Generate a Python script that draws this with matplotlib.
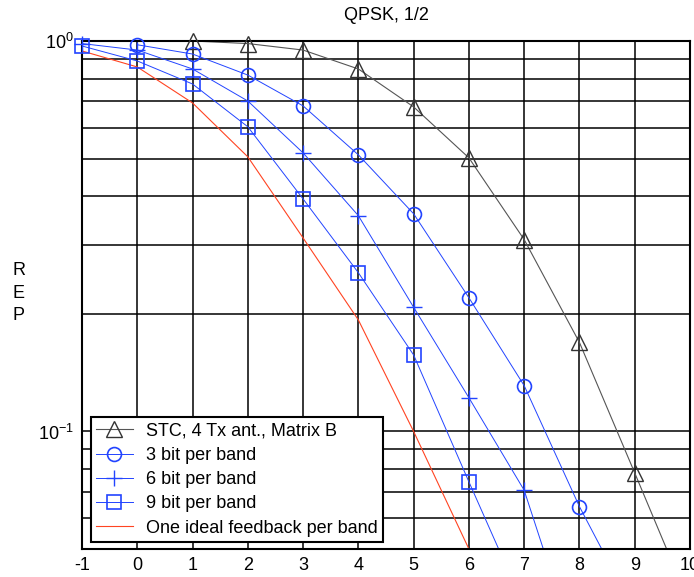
import matplotlib
matplotlib.use("Agg")
import matplotlib.pyplot as plt
import numpy as np
from matplotlib.ticker import FixedLocator, NullFormatter, LogLocator

plt.rcParams['font.family'] = ['Liberation Sans', 'DejaVu Sans']
plt.rcParams['mathtext.fontset'] = 'custom'
plt.rcParams['mathtext.rm'] = 'Liberation Sans'
plt.rcParams['mathtext.it'] = 'Liberation Sans'
plt.rcParams['mathtext.default'] = 'regular'

title = "QPSK, 1/2"
ylabel = "R\nE\nP"

stc_x = [1, 2, 3, 4, 5, 6, 7, 8, 9, 10]
stc_y = [1.0, 0.985, 0.948, 0.848, 0.678, 0.502, 0.310, 0.169, 0.0783, 0.036]

b3_x = [0, 1, 2, 3, 4, 5, 6, 7, 8, 9]
b3_y = [0.978, 0.926, 0.818, 0.682, 0.511, 0.361, 0.220, 0.131, 0.0642, 0.0345]

b6_x = [-1, 0, 1, 2, 3, 4, 5, 6, 7, 8]
b6_y = [0.985, 0.948, 0.848, 0.702, 0.517, 0.357, 0.208, 0.122, 0.0707, 0.026]

b9_x = [-1, 0, 1, 2, 3, 4, 5, 6, 7]
b9_y = [0.971, 0.889, 0.776, 0.603, 0.394, 0.255, 0.157, 0.0743, 0.0356]

ideal_x = [-1, 0, 1, 2, 3, 4, 5, 6]
ideal_y = [0.943, 0.858, 0.694, 0.505, 0.313, 0.193, 0.100, 0.050]

labels = ["STC, 4 Tx ant., Matrix B", "3 bit per band", "6 bit per band",
          "9 bit per band", "One ideal feedback per band"]
xticks = list(range(-1, 11))

YMIN, YMAX = 0.05, 1.0

fig = plt.figure(figsize=(6.94, 5.77), dpi=100)
ax = fig.add_axes([82/694, 1-549/577, (690-82)/694, (549-41)/577])

blue = '#2244ff'
series = [
    (stc_x, stc_y, dict(color='#555555', lw=0.8, marker='^', ms=11, mfc='none',
                        mec='#333333', mew=1.0)),
    (b3_x, b3_y, dict(color=blue, lw=0.7, marker='o', ms=10, mfc='none',
                      mec=blue, mew=1.2)),
    (b6_x, b6_y, dict(color=blue, lw=0.7, marker='+', ms=12, mec=blue, mew=1.0)),
    (b9_x, b9_y, dict(color=blue, lw=0.7, marker='s', ms=10, mfc='none',
                      mec=blue, mew=1.2)),
]
for (xs, ys, st), lab in zip(series, labels[:4]):
    ax.plot(xs, ys, color=st['color'], lw=st['lw'], label=lab,
            marker=st['marker'], ms=st['ms'], mfc=st.get('mfc', 'none'),
            mec=st['mec'], mew=st['mew'], markevery=[])
    mx = [x for x, y in zip(xs, ys) if YMIN <= y <= YMAX]
    my = [y for y in ys if YMIN <= y <= YMAX]
    ax.plot(mx, my, ls='none', marker=st['marker'], ms=st['ms'],
            mfc=st.get('mfc', 'none'), mec=st['mec'], mew=st['mew'],
            clip_on=False, zorder=4)
ax.plot(ideal_x, ideal_y, color='#ff4422', lw=0.8, label=labels[4])

ax.set_yscale('log')
ax.set_xlim(-1, 10)
ax.set_ylim(YMIN, YMAX)
ax.set_xticks(xticks)
ax.set_xticklabels([str(t) for t in xticks])
ax.yaxis.set_major_locator(FixedLocator([0.1, 1.0]))
ax.set_yticklabels(['$10^{-1}$', '$10^{0}$'])
ax.yaxis.set_minor_locator(LogLocator(base=10, subs=np.arange(2, 10)))
ax.yaxis.set_minor_formatter(NullFormatter())
ax.grid(True, which='both', axis='y', color='black', lw=1.1)
ax.grid(True, which='major', axis='x', color='black', lw=1.1)
ax.set_axisbelow(True)
ax.tick_params(axis='both', which='both', length=0, labelsize=13, pad=6)
for s in ax.spines.values():
    s.set_linewidth(1.5)
    s.set_color('black')

ax.set_title(title, fontsize=13, pad=15)
fig.text(19/694, 1-293/577, ylabel, rotation=0, fontsize=13, ha='center',
         va='center', linespacing=1.45)

leg = ax.legend(loc='lower left', bbox_to_anchor=(9/608, 7/508), fontsize=13,
                frameon=True, fancybox=False, borderpad=0.3, labelspacing=0.4,
                handlelength=2.0, handletextpad=0.75, borderaxespad=0)
leg.get_frame().set_edgecolor('black')
leg.get_frame().set_linewidth(1.5)
leg.get_frame().set_alpha(1)
leg.set_zorder(5)

fig.savefig('out.png', dpi=100)
